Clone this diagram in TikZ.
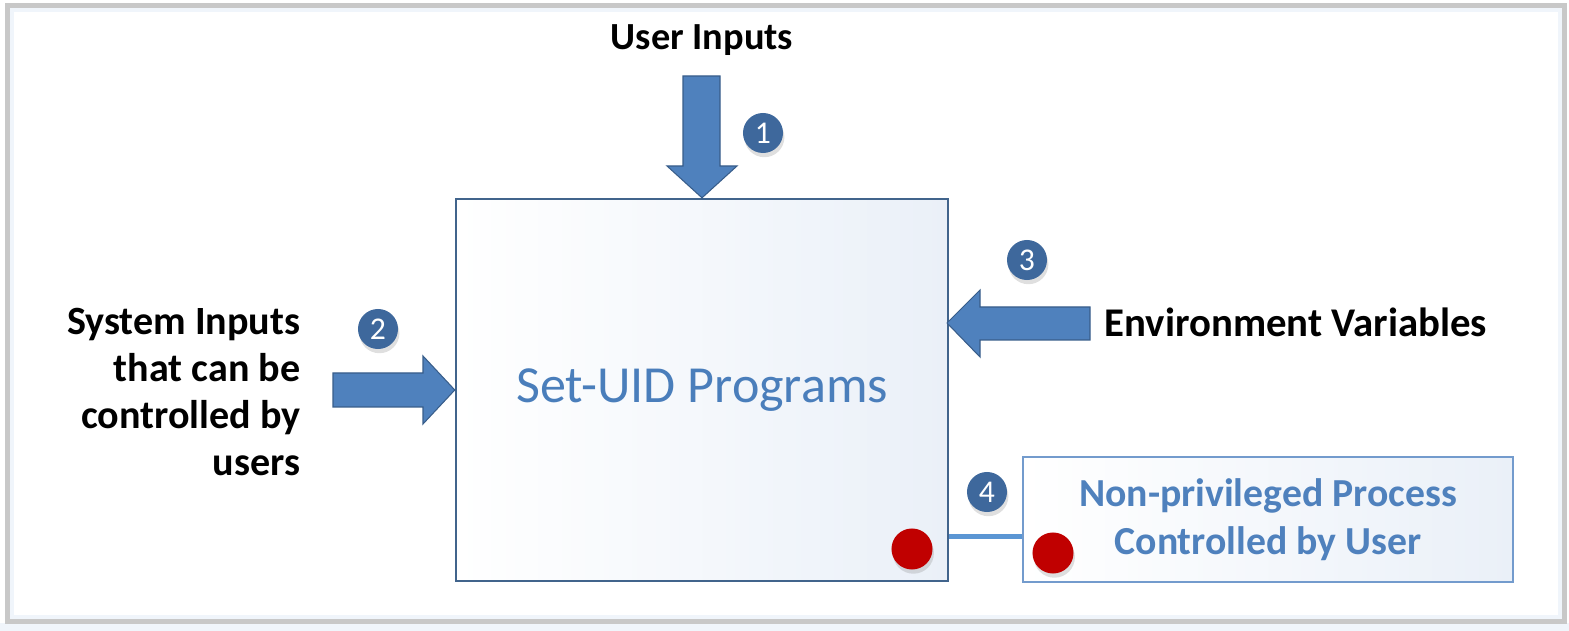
\documentclass[tikz,border=0pt]{standalone}
\usepackage{fontspec}
\setmainfont{Carlito}
\usetikzlibrary{shadows}

\definecolor{arrowblue}{RGB}{79,129,189}
\definecolor{arrowedge}{RGB}{56,93,138}
\definecolor{badgeblue}{RGB}{62,104,156}
\definecolor{boxedge}{RGB}{65,100,140}
\definecolor{procedge}{RGB}{115,155,205}
\definecolor{textblue}{RGB}{74,126,187}
\definecolor{dotred}{RGB}{192,0,0}
\definecolor{linkblue}{RGB}{91,150,212}
\definecolor{framegray}{RGB}{200,200,200}
\definecolor{glowblue}{RGB}{240,245,251}
\definecolor{boxtint}{RGB}{234,240,248}

\begin{document}
\begin{tikzpicture}[x=0.01cm, y=-0.01cm,
  badge/.style={circle, fill=badgeblue, text=white, minimum size=0.4cm, inner sep=0pt,
    font=\fontsize{9}{10}\selectfont,
    drop shadow={shadow xshift=0.4pt, shadow yshift=-1.2pt, opacity=0.25}},
  reddot/.style={circle, fill=dotred, minimum size=0.41cm, inner sep=0pt,
    drop shadow={shadow xshift=0.4pt, shadow yshift=-1.2pt, opacity=0.25}},
  blockarrow/.style={fill=arrowblue, draw=arrowedge, line width=0.3pt},
  sidetext/.style={inner sep=0pt, font=\fontsize{11.4}{13.4}\selectfont\bfseries}]%
\useasboundingbox (0,0) rectangle (1569,631);%
% frame round the whole figure
\fill[glowblue] (0,623) rectangle (1569,631);%
\draw[glowblue, line width=0.04cm] (12,10) rectangle (1560,617);%
\draw[framegray, line width=0.05cm] (7.5,5.5) rectangle (1564.5,621.5);%
% the two boxes
\node[draw=boxedge, line width=0.6pt, left color=white, right color=boxtint,
  minimum width=4.92cm, minimum height=3.82cm, text=textblue,
  font=\fontsize{14.8}{17}\selectfont] (setuid) at (702,390) {Set-UID Programs};%
\node[draw=procedge, line width=0.6pt, left color=white, right color=boxtint,
  minimum width=4.9cm, minimum height=1.25cm, text=arrowblue, align=center,
  font=\fontsize{11.3}{13.8}\selectfont\bfseries] (proc) at (1268,519.5) {Non-privileged Process\\Controlled by User};%
% texts
\node[sidetext, font=\fontsize{10.9}{12}\selectfont\bfseries] (userin) at (702,40) {User Inputs};%
\node[sidetext, anchor=east, align=right] (sysin) at (301,392) {System Inputs\\that can be\\controlled by\\users};%
\node[sidetext, anchor=west, font=\fontsize{11.6}{13.4}\selectfont\bfseries] (envvar) at (1104,322) {Environment Variables};%
% block arrows
\draw[blockarrow] (683,76) -- (720,76) -- (720,166) -- (737,166) -- (setuid.north) -- (667,166) -- (683,166) -- cycle;%
\draw[blockarrow] (333,373) -- (423,373) -- (423,356) -- (setuid.west) -- (423,424) -- (423,407) -- (333,407) -- cycle;%
\draw[blockarrow] (1090,307) -- (980,307) -- (980,290) -- (947,323) -- (980,357) -- (980,340) -- (1090,340) -- cycle;%
% numbered badges
\node[badge] (b1) at (763,133) {1};%
\node[badge] (b2) at (378,329) {2};%
\node[badge] (b3) at (1027,260) {3};%
\node[badge] (b4) at (987,492) {4};%
% link between the two processes
\coordinate (linky) at (0,537);%
\draw[linkblue, line width=0.05cm] (setuid.east |- linky) -- (proc.west |- linky);%
\node[reddot] (dot1) at (912,549) {};%
\node[reddot] (dot2) at (1053,553) {};%
\end{tikzpicture}
\end{document}
